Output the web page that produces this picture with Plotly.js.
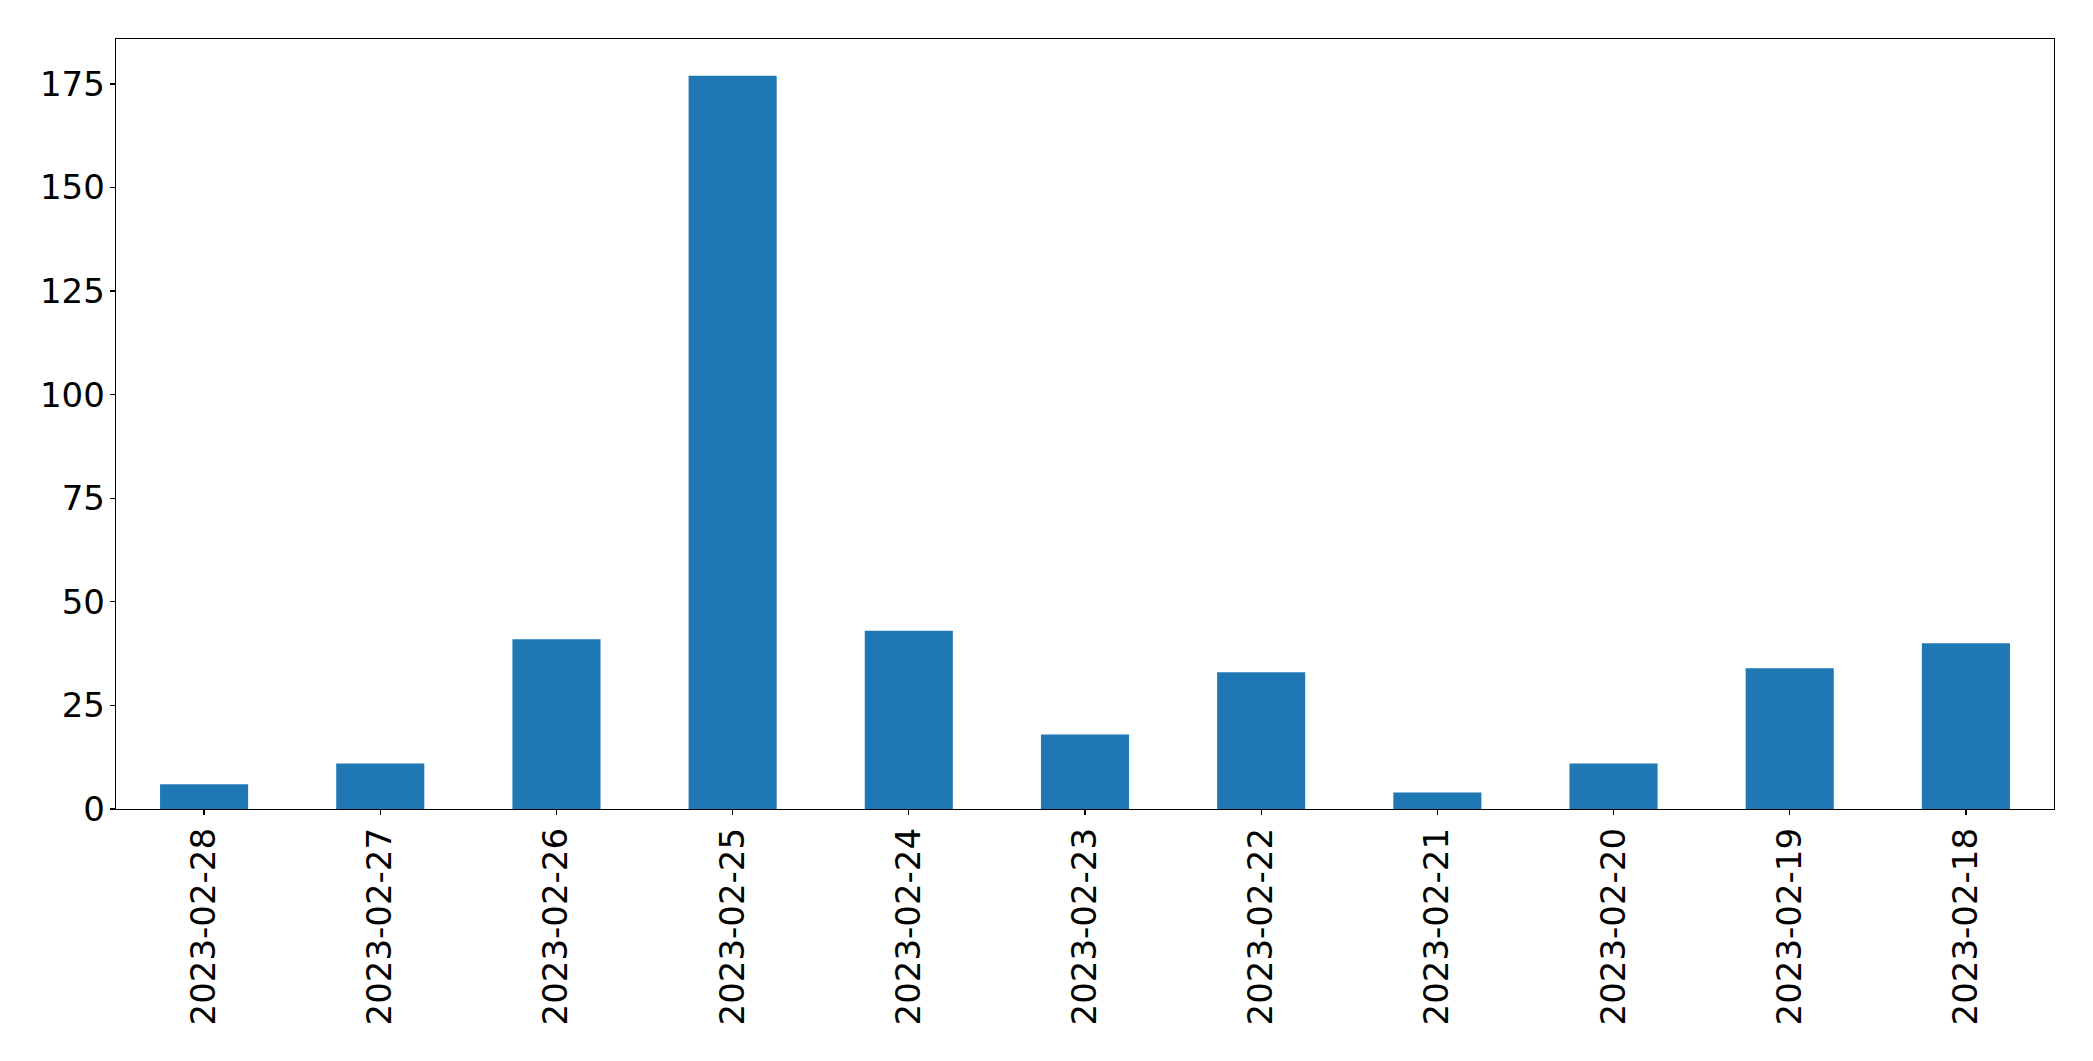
<!DOCTYPE html>
<html>
<head>
<meta charset="utf-8">
<script src="https://cdn.plot.ly/plotly-3.0.1.min.js"></script>
<style>html,body{margin:0;padding:0;background:#fff;}#chart{width:2093px;height:1061px;}</style>
</head>
<body>
<div id="chart"></div>
<script>
const categories = ["2023-02-28","2023-02-27","2023-02-26","2023-02-25","2023-02-24","2023-02-23","2023-02-22","2023-02-21","2023-02-20","2023-02-19","2023-02-18"];
const values = [6, 11, 41, 177, 43, 18, 33, 4, 11, 34, 40];
const yTicks = [0, 25, 50, 75, 100, 125, 150, 175];

const font = {family: "DejaVu Sans", size: 34, color: "#000"};
Plotly.newPlot("chart", [{
  type: "bar",
  x: categories,
  y: values,
  width: 0.5,
  marker: {color: "#1f77b4", line: {width: 0}},
  hoverinfo: "none"
}], {
  width: 2093, height: 1061,
  margin: {l: 116, r: 39, t: 39, b: 252, pad: 0},
  paper_bgcolor: "#fff", plot_bgcolor: "#fff",
  showlegend: false,
  font: font,
  xaxis: {
    type: "category",
    range: [-0.5, 10.5],
    tickangle: -90,
    showline: true, mirror: true, linecolor: "#000", linewidth: 1.3,
    ticks: "outside", ticklen: 5, tickwidth: 1.3, tickcolor: "#000",
    showgrid: false, zeroline: false,
    tickfont: font, ticklabelstandoff: -1
  },
  yaxis: {
    range: [0, 185.85],
    tickvals: yTicks,
    ticktext: yTicks.map(String),
    showline: true, mirror: true, linecolor: "#000", linewidth: 1.3,
    ticks: "outside", ticklen: 5, tickwidth: 1.3, tickcolor: "#000",
    showgrid: false, zeroline: false,
    tickfont: font, ticklabelstandoff: -2
  }
}, {staticPlot: true});
</script>
</body>
</html>
